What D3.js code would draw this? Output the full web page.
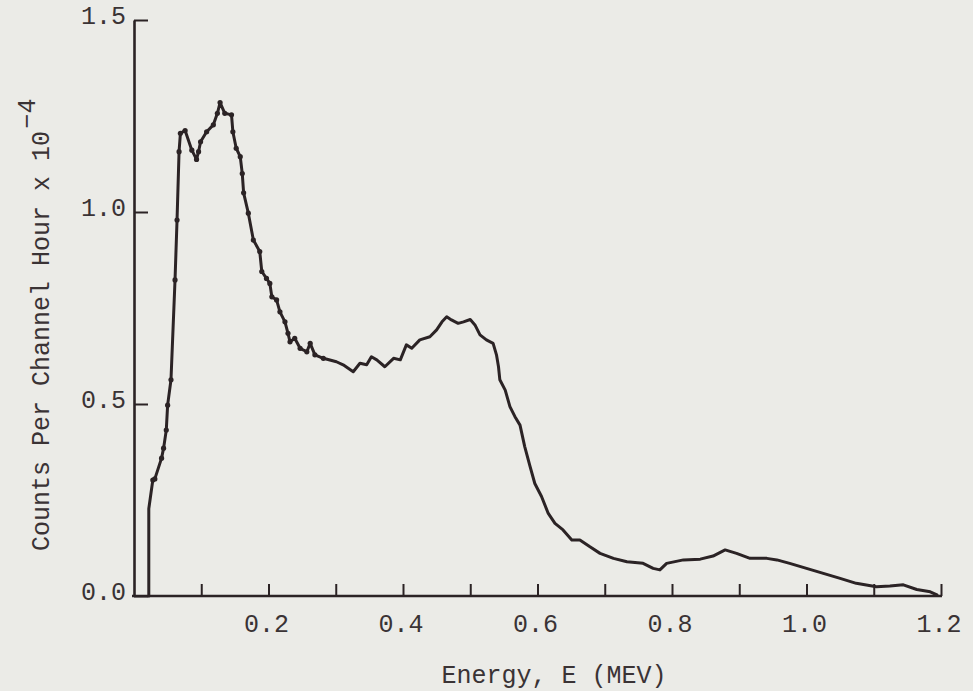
<!DOCTYPE html>
<html>
<head>
<meta charset="utf-8">
<script src="https://cdn.jsdelivr.net/npm/d3@7"></script>
<style>
  html, body { margin: 0; padding: 0; background: #ebebe7; }
  svg { display: block; }
  text { font-family: "Liberation Mono", "DejaVu Sans Mono", monospace; fill: #3a3335; }
</style>
</head>
<body>
<svg id="chart" width="973" height="691"></svg>
<script>
// Energy (MeV)
const energy = [0.022,0.022,0.028,0.031,0.041,0.044,0.048,0.050,0.055,0.061,0.064,0.067,0.069,0.076,0.086,0.093,0.096,0.099,0.108,0.118,0.124,0.128,0.135,0.145,0.147,0.152,0.158,0.161,0.163,0.170,0.1775,0.187,0.190,0.197,0.202,0.205,0.212,0.217,0.2245,0.229,0.232,0.239,0.247,0.257,0.262,0.269,0.2815,0.301,0.311,0.326,0.336,0.346,0.353,0.361,0.373,0.386,0.396,0.405,0.413,0.425,0.440,0.450,0.458,0.465,0.472,0.482,0.490,0.500,0.507,0.5145,0.524,0.534,0.539,0.542,0.544,0.552,0.559,0.5665,0.574,0.581,0.589,0.596,0.606,0.616,0.626,0.638,0.651,0.663,0.678,0.693,0.713,0.733,0.757,0.772,0.782,0.792,0.817,0.842,0.861,0.879,0.896,0.916,0.941,0.956,0.975,1.000,1.025,1.050,1.074,1.104,1.124,1.144,1.164,1.184,1.194];
// Counts per channel hour x 10^-4
const counts = [0,0.227,0.302,0.305,0.359,0.385,0.432,0.497,0.563,0.823,0.979,1.157,1.205,1.212,1.161,1.137,1.157,1.183,1.209,1.227,1.257,1.285,1.257,1.253,1.209,1.166,1.144,1.100,1.050,0.997,0.927,0.897,0.845,0.827,0.814,0.779,0.771,0.740,0.714,0.684,0.662,0.671,0.645,0.636,0.658,0.628,0.619,0.610,0.602,0.584,0.606,0.602,0.623,0.615,0.597,0.619,0.615,0.654,0.645,0.667,0.675,0.693,0.714,0.727,0.719,0.710,0.714,0.720,0.706,0.680,0.667,0.658,0.628,0.597,0.563,0.536,0.493,0.467,0.445,0.389,0.337,0.293,0.259,0.215,0.189,0.172,0.146,0.146,0.128,0.111,0.098,0.089,0.085,0.072,0.068,0.085,0.094,0.096,0.104,0.120,0.111,0.098,0.098,0.094,0.085,0.072,0.059,0.046,0.033,0.024,0.026,0.029,0.017,0.011,0.003];
const xTicks = [0.1,0.2,0.3,0.4,0.5,0.6,0.7,0.8,0.9,1.0,1.1,1.2];
const xTickLabels = ["","0.2","","0.4","","0.6","","0.8","","1.0","","1.2"];
const yTicks = [0.0,0.5,1.0,1.5];
const yTickLabels = ["0.0","0.5","1.0","1.5"];
const xTitle = "Energy, E (MEV)";
const yTitle = "Counts Per Channel Hour x 10";
const yTitleExp = "\u22124";

const svg = d3.select("#chart");
const ink = "#2b2325";

const x = d3.scaleLinear().domain([0, 1.2]).range([134, 941]);
const y = d3.scaleLinear().domain([0, 1.5]).range([596, 20]);

// X axis
const gx = svg.append("g").attr("transform", `translate(0,${y(0)})`)
  .call(d3.axisBottom(x).tickValues(xTicks)
    .tickFormat((d, i) => xTickLabels[i])
    .tickSizeInner(-12).tickSizeOuter(0).tickPadding(18));
gx.select(".domain").attr("stroke", ink).attr("stroke-width", 2.4)
  .attr("d", `M${x(0) - 2},0H${x(1.2) + 1}`);
gx.selectAll(".tick line").attr("stroke", ink).attr("stroke-width", 2);
gx.selectAll(".tick text").attr("font-size", 25).attr("fill", "#3a3335")
  .attr("font-family", "Liberation Mono").attr("dx", "-0.1em");

// Y axis
const gy = svg.append("g").attr("transform", `translate(${x(0)},0)`)
  .call(d3.axisLeft(y).tickValues(yTicks)
    .tickFormat((d, i) => yTickLabels[i])
    .tickSizeInner(-14).tickSizeOuter(0).tickPadding(8));
gy.select(".domain").attr("stroke", ink).attr("stroke-width", 2.6);
gy.selectAll(".tick line").attr("stroke", ink).attr("stroke-width", 2);
gy.selectAll(".tick text").attr("font-size", 25).attr("fill", "#3a3335")
  .attr("font-family", "Liberation Mono").attr("dy", "0.15em");

// Curve
const pts = energy.map((e, i) => [e, counts[i]]);
const line = d3.line().x(d => x(d[0])).y(d => y(d[1]));
svg.append("path").datum(pts)
  .attr("d", line)
  .attr("fill", "none")
  .attr("stroke", ink)
  .attr("stroke-width", 3)
  .attr("stroke-linejoin", "round")
  .attr("stroke-linecap", "round");

svg.append("g").selectAll("circle")
  .data(pts.filter(d => d[0] < 0.3 && d[1] > 0.25))
  .join("circle")
  .attr("cx", d => x(d[0])).attr("cy", d => y(d[1]))
  .attr("r", 2.6).attr("fill", ink);

// Titles
svg.append("text")
  .attr("x", 554).attr("y", 683)
  .attr("text-anchor", "middle")
  .attr("font-size", 25)
  .text(xTitle);

const yt = svg.append("text")
  .attr("transform", "translate(49,551) rotate(-90)")
  .attr("text-anchor", "start")
  .attr("font-size", 25);
yt.append("tspan").text(yTitle);
yt.append("tspan").attr("dy", "-0.55em").attr("dx", "0.1em").text(yTitleExp);
</script>
</body>
</html>
